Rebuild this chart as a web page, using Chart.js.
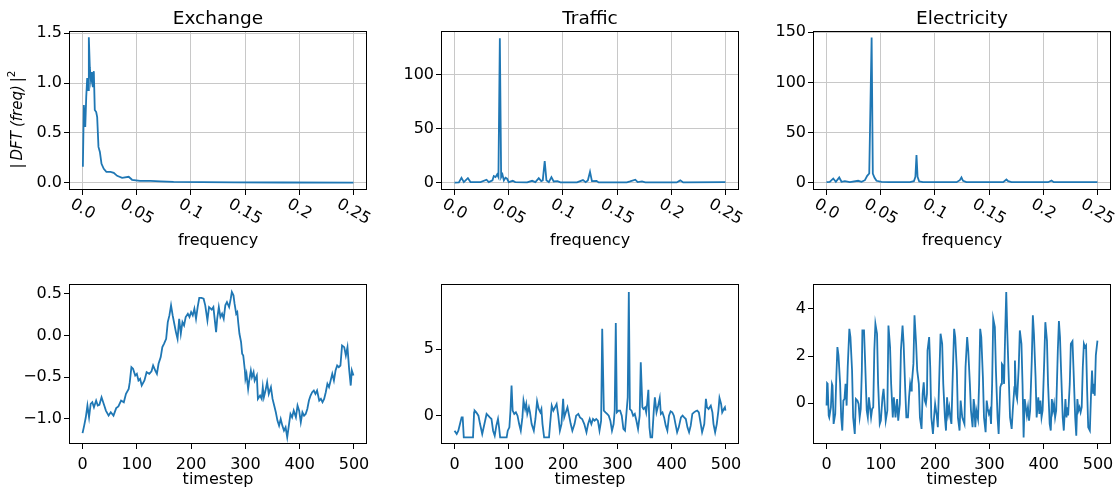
<!DOCTYPE html>
<html>
<head>
<meta charset="utf-8">
<title>Spectra and series</title>
<script src="https://cdn.jsdelivr.net/npm/chart.js@4.4.1/dist/chart.umd.min.js"></script>
<style>
  html, body { margin: 0; padding: 0; background: #fff; overflow: hidden; }
  body { width: 1115px; height: 489px; position: relative; }
  canvas { position: absolute; }
</style>
</head>
<body>
<canvas id="exFft"></canvas>
<canvas id="trFft"></canvas>
<canvas id="elFft"></canvas>
<canvas id="exSeries"></canvas>
<canvas id="trSeries"></canvas>
<canvas id="elSeries"></canvas>
<script>
// ---- spectra (frequency, |DFT|^2) ----
const exFreq = [0.0003, 0.0012, 0.0025, 0.0034, 0.0043, 0.0052, 0.0058, 0.0067, 0.0077, 0.0086,
  0.0095, 0.0104, 0.0113, 0.0126, 0.0135, 0.0147, 0.016, 0.0175, 0.0196, 0.022,
  0.0258, 0.0288, 0.0319, 0.0365, 0.0426, 0.0457, 0.053, 0.0626, 0.072, 0.084,
  0.11, 0.14, 0.185, 0.25];
const exPower = [0.16, 0.78, 0.56, 0.86, 1.05, 0.93, 1.46, 1.16, 1.03, 1.11,
  0.96, 1.12, 0.73, 0.71, 0.66, 0.36, 0.31, 0.19, 0.14, 0.11,
  0.11, 0.10, 0.07, 0.05, 0.06, 0.03, 0.02, 0.02, 0.015, 0.01,
  0.007, 0.004, 0.003, 0.002];

const trFreq = [0, 0.004, 0.0064, 0.0086, 0.0123, 0.0147, 0.024, 0.0295, 0.0316, 0.035,
  0.0362, 0.0378, 0.0393, 0.0405, 0.0418, 0.043, 0.0442, 0.0455, 0.047, 0.0485,
  0.05, 0.0537, 0.056, 0.067, 0.0716, 0.0746, 0.0777, 0.08, 0.0814, 0.0832,
  0.0848, 0.087, 0.0894, 0.0915, 0.095, 0.0977, 0.113, 0.1185, 0.121, 0.123,
  0.125, 0.1268, 0.131, 0.133, 0.159, 0.162, 0.1668, 0.169, 0.173, 0.176,
  0.205, 0.2083, 0.211, 0.25];
const trPower = [0.2, 0.3, 4.6, 0.6, 4.3, 0.6, 0.6, 2.8, 0.6, 2.2,
  6.2, 5.2, 7.7, 5.2, 133.5, 5.2, 7.7, 2.2, 4.6, 3.7,
  0.6, 1.8, 0.6, 0.3, 1.8, 0.6, 4.3, 1.5, 2.2, 20.0,
  2.2, 0.6, 5.2, 1.2, 1.5, 0.3, 0.3, 2.5, 0.6, 2.2,
  10.2, 1.5, 1.8, 0.3, 0.3, 1.2, 2.8, 0.6, 1.2, 0.3,
  0.3, 2.2, 0.3, 0.6];

const elFreq = [0, 0.003, 0.0062, 0.0086, 0.0117, 0.0138, 0.0169, 0.0215, 0.0292, 0.0323,
  0.0354, 0.0375, 0.0394, 0.0416, 0.0427, 0.0443, 0.0461, 0.0507, 0.058, 0.077,
  0.0806, 0.082, 0.083, 0.084, 0.0855, 0.089, 0.12, 0.123, 0.1245, 0.126,
  0.129, 0.163, 0.166, 0.1676, 0.1707, 0.2045, 0.2076, 0.2097, 0.25];
const elPower = [0.3, 0.5, 4.0, 0.7, 5.0, 0.7, 1.3, 0.3, 1.7, 0.7,
  2.3, 6.7, 9.0, 144.7, 9.0, 4.7, 1.7, 0.7, 0.3, 0.3,
  1.3, 5.7, 27.3, 5.7, 1.0, 0.3, 0.3, 2.3, 5.0, 1.7,
  0.3, 0.3, 3.0, 1.3, 0.3, 0.3, 2.0, 0.3, 0.3];

// ---- raw series (timestep, value) ----
const exStep = [0, 3, 6, 9, 12, 15, 18, 21, 25, 28,
  31, 35, 40, 43, 48, 52, 57, 62, 66, 71,
  76, 80, 85, 87, 90, 93, 97, 100, 103, 106,
  109, 114, 118, 123, 127, 130, 134, 137, 140, 144,
  147, 150, 154, 157, 160, 163, 166, 169, 172, 175,
  178, 181, 184, 187, 190, 194, 197, 200, 203, 206,
  209, 212, 215, 219, 223, 226, 230, 233, 238, 241,
  246, 248, 251, 254, 257, 260, 263, 266, 270, 273,
  275, 278, 280, 283, 285, 287, 289, 292, 294, 296,
  299, 300, 302, 305, 307, 310, 312, 315, 317, 321,
  323, 327, 330, 332, 334, 337, 340, 343, 347, 350,
  353, 356, 359, 362, 365, 368, 371, 374, 377, 380,
  383, 386, 389, 393, 396, 399, 402, 405, 408, 411,
  414, 417, 420, 423, 426, 429, 432, 436, 439, 442,
  445, 448, 451, 454, 457, 460, 463, 466, 469, 472,
  475, 478, 482, 485, 488, 491, 494, 496, 499];
const exValue = [-1.17, -1.08, -0.98, -0.84, -0.98, -0.82, -0.80, -0.86, -0.78, -0.84,
  -0.83, -0.74, -0.84, -0.90, -0.96, -0.92, -0.96, -0.87, -0.85, -0.78,
  -0.80, -0.70, -0.64, -0.56, -0.38, -0.40, -0.48, -0.46, -0.54, -0.52,
  -0.60, -0.54, -0.44, -0.46, -0.43, -0.36, -0.42, -0.46, -0.34, -0.26,
  -0.14, -0.10, -0.04, 0.16, 0.24, 0.36, 0.24, 0.14, 0.04, -0.04,
  0.20, 0.02, 0.16, 0.12, 0.22, 0.26, 0.22, 0.28, 0.24, 0.32,
  0.20, 0.34, 0.45, 0.45, 0.44, 0.36, 0.18, 0.34, 0.31, 0.34,
  0.04, 0.20, 0.34, 0.22, 0.26, 0.20, 0.36, 0.40, 0.34, 0.44,
  0.52, 0.48, 0.38, 0.26, 0.28, 0.14, 0.02, -0.08, -0.22, -0.24,
  -0.42, -0.52, -0.46, -0.64, -0.54, -0.42, -0.50, -0.44, -0.54, -0.48,
  -0.76, -0.72, -0.76, -0.62, -0.74, -0.66, -0.56, -0.70, -0.62, -0.76,
  -0.84, -0.92, -1.02, -1.08, -1.00, -1.08, -1.14, -1.10, -1.22, -1.08,
  -0.94, -0.98, -0.90, -0.98, -0.84, -0.90, -1.04, -0.92, -0.96, -0.94,
  -0.88, -0.78, -0.72, -0.68, -0.66, -0.70, -0.66, -0.78, -0.76, -0.80,
  -0.76, -0.68, -0.58, -0.62, -0.54, -0.46, -0.54, -0.42, -0.36, -0.38,
  -0.36, -0.12, -0.14, -0.24, -0.14, -0.40, -0.60, -0.42, -0.48];

const trStep = [0, 4, 7, 10, 13, 15, 17, 34, 36, 37,
  40, 44, 47, 51, 55, 59, 62, 65, 68, 71,
  74, 77, 80, 82, 84, 96, 98, 101, 103, 105,
  107, 110, 113, 116, 119, 122, 125, 127, 130, 132,
  134, 137, 139, 142, 146, 149, 152, 155, 158, 160,
  162, 165, 174, 176, 179, 182, 185, 188, 191, 194,
  197, 200, 202, 205, 208, 211, 214, 217, 221, 224,
  228, 231, 235, 239, 243, 246, 249, 252, 255, 258,
  261, 264, 267, 270, 272, 275, 278, 281, 284, 287,
  290, 293, 295, 297, 299, 302, 305, 308, 311, 314,
  316, 319, 321, 323, 326, 329, 332, 335, 338, 341,
  343, 346, 348, 351, 353, 355, 357, 359, 361, 364,
  367, 369, 372, 375, 378, 380, 383, 386, 389, 392,
  395, 398, 401, 404, 407, 410, 413, 417, 420, 423,
  426, 429, 432, 435, 438, 441, 444, 447, 450, 453,
  456, 460, 463, 465, 468, 470, 472, 475, 477, 480,
  483, 486, 488, 491, 493, 496, 498, 499];
const trValue = [-1.13, -1.38, -1.13, -0.63, -0.13, -0.13, -1.63, -1.63, 0.25, 0.38,
  0.25, 0.0, -0.63, -1.38, -0.63, 0.13, 0.0, -0.13, -0.25, -1.13,
  -1.5, -0.75, -0.25, -0.88, -1.63, -1.63, -1.13, -0.88, 0.38, 2.26,
  0.38, 0.13, 0.25, 0.0, -0.63, -1.13, -0.13, 1.13, 0.5, 0.88,
  0.13, 0.63, 0.25, -0.63, -1.13, -0.25, 1.08, 0.5, 0.25, 0.5,
  -0.63, -1.63, -1.63, -0.63, 0.75, 0.38, 0.63, 0.88, 0.0, -1.13,
  -0.63, 1.26, -0.13, 0.25, 0.63, 0.0, -0.63, -1.13, -0.63, 0.0,
  0.13, -0.13, -0.25, -0.63, -1.25, -0.63, -0.25, -0.63, -0.25, -0.38,
  -0.25, -0.38, -1.13, -0.38, 6.53, 0.38, 0.25, 0.13, 0.0, -0.38,
  -1.13, -0.63, 0.38, 6.96, 0.25, 0.38, 0.38, 0.0, -1.0, -1.13,
  -0.13, 1.38, 9.3, 0.5, 0.38, 0.0, 0.13, -0.38, -1.0, 0.0,
  4.02, 0.63, 0.5, 0.63, 0.25, 1.0, 1.94, -0.88, -1.63, -1.63,
  0.38, 1.38, 0.25, 0.75, 1.33, 0.13, 0.25, -0.13, -0.75, -1.13,
  0.0, 0.33, 0.25, 0.0, -0.63, -1.25, -0.88, -0.13, 0.0, -0.13,
  -0.25, -0.88, -1.25, -0.75, 0.13, 0.25, 0.33, 0.38, 0.25, -0.5,
  -1.25, -0.63, 1.26, 0.63, 0.5, 0.63, 0.75, 0.25, -0.63, -1.25,
  -0.63, 0.38, 1.33, 0.88, 0.25, 0.5, 0.63, 0.38];

const elStep = [0, 1, 2, 4, 5, 8, 10, 11, 13, 16,
  18, 20, 22, 25, 27, 29, 31, 33, 35, 37,
  39, 42, 44, 47, 49, 52, 54, 57, 59, 61,
  63, 65, 66, 69, 71, 74, 76, 78, 80, 82,
  84, 86, 88, 90, 93, 95, 98, 100, 103, 105,
  107, 109, 112, 114, 117, 119, 122, 124, 127, 130,
  132, 135, 137, 140, 142, 145, 147, 150, 152, 154,
  156, 157, 160, 162, 165, 167, 170, 172, 175, 177,
  179, 181, 183, 185, 186, 189, 191, 193, 196, 198,
  200, 203, 205, 208, 210, 213, 215, 218, 220, 222,
  224, 226, 228, 230, 232, 235, 237, 240, 242, 245,
  247, 250, 252, 254, 256, 259, 261, 264, 266, 269,
  271, 272, 274, 276, 279, 281, 283, 285, 288, 290,
  293, 295, 297, 299, 301, 303, 305, 307, 310, 312,
  315, 317, 320, 322, 323, 325, 327, 329, 331, 333,
  336, 338, 341, 343, 346, 347, 349, 351, 354, 356,
  359, 361, 363, 365, 367, 369, 371, 373, 375, 378,
  380, 382, 385, 387, 390, 392, 394, 396, 398, 401,
  403, 406, 408, 411, 413, 415, 417, 419, 421, 423,
  426, 428, 430, 432, 435, 437, 440, 442, 443, 445,
  448, 450, 453, 455, 458, 460, 462, 464, 466, 468,
  470, 472, 474, 476, 478, 480, 482, 485, 487, 489,
  491, 493, 494, 496, 499];
const elValue = [-0.10, 0.85, 0.82, -0.52, -0.60, -0.17, 0.82, 0.75, -0.88, -0.45,
  1.10, 2.38, 2.03, 0.82, -0.60, -1.16, 0.11, 0.18, 0.82, -0.10,
  1.53, 3.16, 2.81, 1.39, -0.60, -1.30, 0.18, 0.11, -0.03, -0.60,
  -0.24, 1.39, 3.09, 3.09, 1.81, -0.31, -0.60, 0.25, -0.17, -0.60,
  -0.24, -0.17, 2.24, 3.37, 2.95, 0.82, -0.88, -0.74, 0.25, 0.61,
  -0.03, -0.74, -0.31, 3.30, 2.38, 0.82, -0.60, 0.25, -0.60, 0.18,
  -0.74, -0.03, 2.24, 3.30, 2.52, 0.54, -0.60, -0.60, 0.25, 0.82,
  0.54, 0.82, 1.67, 3.73, 2.52, 1.39, 0.82, -0.60, -1.09, 0.40,
  0.89, 0.11, -0.03, 0.40, 2.24, 2.81, 1.53, -0.60, -1.30, -0.60,
  -0.03, -0.52, -1.02, 1.39, 2.95, 2.52, 0.82, -0.60, -1.16, 0.25,
  -0.45, -0.17, -0.60, -0.88, 0.82, 3.16, 2.81, 1.39, -0.60, -1.16,
  0.11, -0.60, -0.74, -0.88, 1.53, 2.81, 2.24, 0.82, -0.31, -1.02,
  0.18, -0.03, -1.02, -0.31, -0.67, 0.82, 3.16, 2.81, 1.10, -0.60,
  -1.23, 0.11, -0.24, -0.45, -0.31, -0.88, 0.82, 3.59, 3.23, 1.39,
  -0.60, -1.30, 0.68, 0.82, 1.67, 1.60, 0.82, 2.95, 4.72, 2.95,
  0.82, -0.60, -1.09, -0.31, 0.68, 1.81, 0.40, 0.18, 1.53, 3.09,
  2.52, 0.82, -1.45, 0.18, -0.17, -0.52, -0.17, -0.74, -0.31, 1.81,
  3.73, 2.95, 1.10, -0.60, 0.25, -0.45, 0.11, -0.60, -0.31, 1.81,
  3.44, 2.66, 0.82, -0.88, -1.16, 0.18, -0.31, -0.03, -0.60, -0.31,
  2.24, 3.49, 2.81, 1.39, -0.60, -1.16, 0.18, -0.60, -0.17, -0.52,
  0.82, 2.52, 2.63, 1.39, -0.60, -1.38, 0.18, -0.31, -0.17, -0.38,
  -0.17, 1.53, 2.52, 2.38, 2.45, 0.54, -1.02, -1.16, 0.25, 1.39,
  0.40, 0.82, 0.32, 2.03, 2.66];

// ---- ticks ----
const freqTicks = [0, 0.05, 0.1, 0.15, 0.2, 0.25];
const freqLabels = ['0.0', '0.05', '0.1', '0.15', '0.2', '0.25'];
const stepTicks = [0, 100, 200, 300, 400, 500];
const stepLabels = ['0', '100', '200', '300', '400', '500'];
const exFftTicks = [0, 0.5, 1.0, 1.5];
const exFftLabels = ['0.0', '0.5', '1.0', '1.5'];
const trFftTicks = [0, 50, 100];
const trFftLabels = ['0', '50', '100'];
const elFftTicks = [0, 50, 100, 150];
const elFftLabels = ['0', '50', '100', '150'];
const exSeriesTicks = [-1.0, -0.5, 0.0, 0.5];
const exSeriesLabels = ['\u22121.0', '\u22120.5', '0.0', '0.5'];
const trSeriesTicks = [0, 5];
const trSeriesLabels = ['0', '5'];
const elSeriesTicks = [0, 2, 4];
const elSeriesLabels = ['0', '2', '4'];

const FONT = '"DejaVu Sans", sans-serif';
const BLUE = '#1f77b4';
const PAD_L = 68, PAD_R = 22;

function toPoints(xs, ys) {
  return xs.map((x, i) => ({ x: x, y: ys[i] }));
}

// frame, titles, rotated frequency labels and the mathtext-like y label
const panelDeco = {
  id: 'panelDeco',
  afterDatasetsDraw(chart, args, opts) {
    const { ctx, chartArea: a } = chart;
    ctx.save();
    ctx.strokeStyle = '#000';
    ctx.lineWidth = 1;
    ctx.strokeRect(a.left + 0.5, a.top + 0.5, a.right - a.left - 1, a.bottom - a.top - 1);
    ctx.restore();
  },
  afterDraw(chart, args, opts) {
    const { ctx, chartArea: a } = chart;
    const cx = (a.left + a.right) / 2;
    ctx.save();
    ctx.fillStyle = '#000';
    ctx.textAlign = 'center';
    ctx.textBaseline = 'alphabetic';
    if (opts.title) {
      ctx.font = '18.5px ' + FONT;
      ctx.fillText(opts.title, cx, a.top - 7.5);
    }
    ctx.font = '16px ' + FONT;
    ctx.fillText(opts.xTitle, cx, a.bottom + opts.xTitleGap);

    if (opts.rotatedLabels) {
      const sx = chart.scales.x;
      const ang = Math.PI / 6;
      ctx.textBaseline = 'middle';
      sx.ticks.forEach((t, i) => {
        const label = opts.rotatedLabels[i];
        const w = ctx.measureText(label).width;
        const boxH = w * Math.sin(ang) + 16 * 1.17 * Math.cos(ang);
        const px = sx.getPixelForValue(t.value);
        ctx.save();
        ctx.translate(px, a.bottom + 5 + boxH / 2);
        ctx.rotate(ang);
        ctx.fillText(label, 0, 0);
        ctx.restore();
      });
    }

    if (opts.yLabel) {
      const parts = [
        { t: '|', f: '15px ' + FONT, dy: 0 },
        { gap: 3 },
        { t: 'DFT', f: 'italic 15px ' + FONT, dy: 0 },
        { gap: 4 },
        { t: '(freq)', f: 'italic 15px ' + FONT, dy: 0 },
        { gap: 3 },
        { t: '|', f: '15px ' + FONT, dy: 0 },
        { t: '2', f: '10.5px ' + FONT, dy: -7 }
      ];
      let total = 0;
      parts.forEach(p => {
        if (p.gap) { total += p.gap; return; }
        ctx.font = p.f;
        p.w = ctx.measureText(p.t).width;
        total += p.w;
      });
      ctx.translate(opts.yLabel.x, opts.yLabel.y);
      ctx.rotate(-Math.PI / 2);
      ctx.textAlign = 'left';
      ctx.textBaseline = 'alphabetic';
      let x = -total / 2;
      parts.forEach(p => {
        if (p.gap) { x += p.gap; return; }
        ctx.font = p.f;
        ctx.fillText(p.t, x, p.dy);
        x += p.w;
      });
    }
    ctx.restore();
  }
};

function drawPanel(id, p) {
  const canvas = document.getElementById(id);
  canvas.width = PAD_L + p.w + PAD_R;
  canvas.height = p.padT + p.h + p.padB;
  canvas.style.left = (p.left - PAD_L) + 'px';
  canvas.style.top = (p.top - p.padT) + 'px';
  const tickFont = { family: FONT, size: 16 };
  const gridColor = p.grid ? '#c8c8c8' : 'rgba(0,0,0,0)';
  const grid = {
    drawOnChartArea: p.grid,
    color: gridColor,
    lineWidth: 1,
    drawTicks: true,
    tickLength: 5,
    tickColor: '#000',
    tickWidth: 1
  };

  new Chart(canvas, {
    type: 'line',
    data: {
      datasets: [{
        data: toPoints(p.xs, p.ys),
        borderColor: BLUE,
        borderWidth: 1.8,
        pointRadius: 0,
        tension: 0,
        fill: false
      }]
    },
    options: {
      responsive: false,
      animation: false,
      devicePixelRatio: 1,
      layout: { padding: { left: 0, right: PAD_R, top: p.padT, bottom: 0 } },
      plugins: {
        legend: { display: false },
        tooltip: { enabled: false },
        panelDeco: {
          title: p.title,
          xTitle: p.xTitle,
          xTitleGap: p.xTitleGap,
          rotatedLabels: p.rotated ? p.xLabels : null,
          yLabel: p.yLabel || null
        }
      },
      scales: {
        x: {
          type: 'linear',
          min: p.xMin,
          max: p.xMax,
          afterBuildTicks: s => { s.ticks = p.xTicks.map(v => ({ value: v })); },
          afterFit: s => { s.height = p.padB; },
          ticks: {
            display: !p.rotated,
            font: tickFont,
            color: '#000',
            padding: 6,
            maxRotation: 0,
            autoSkip: false,
            callback: (v, i) => p.xLabels[i]
          },
          grid: grid,
          border: { display: false }
        },
        y: {
          type: 'linear',
          min: p.yMin,
          max: p.yMax,
          afterBuildTicks: s => { s.ticks = p.yTicks.map(v => ({ value: v })); },
          afterFit: s => { s.width = PAD_L; },
          ticks: {
            font: tickFont,
            color: '#000',
            padding: 2,
            autoSkip: false,
            callback: (v, i) => p.yLabels[i]
          },
          grid: grid,
          border: { display: false }
        }
      }
    },
    plugins: [panelDeco]
  });
}

const topRow = { top: 31, h: 159, padT: 31, padB: 62, w: 298, grid: true, rotated: true,
  xMin: -0.0125, xMax: 0.2625, xTicks: freqTicks, xLabels: freqLabels,
  xTitle: 'frequency', xTitleGap: 55 };
const bottomRow = { top: 284, h: 160, padT: 30, padB: 45, w: 298, grid: false, rotated: false,
  xMin: -24.95, xMax: 523.95, xTicks: stepTicks, xLabels: stepLabels,
  xTitle: 'timestep', xTitleGap: 39.5 };

drawPanel('exFft', Object.assign({}, topRow, {
  left: 69, title: 'Exchange', xs: exFreq, ys: exPower,
  yMin: -0.0725, yMax: 1.523, yTicks: exFftTicks, yLabels: exFftLabels,
  yLabel: { x: 22 - 1, y: 119.5 }
}));
drawPanel('trFft', Object.assign({}, topRow, {
  left: 441, title: 'Traffic', xs: trFreq, ys: trPower,
  yMin: -6.7, yMax: 140.2, yTicks: trFftTicks, yLabels: trFftLabels
}));
drawPanel('elFft', Object.assign({}, topRow, {
  left: 813, title: 'Electricity', xs: elFreq, ys: elPower,
  yMin: -7.5, yMax: 151.3, yTicks: elFftTicks, yLabels: elFftLabels
}));
drawPanel('exSeries', Object.assign({}, bottomRow, {
  left: 69, xs: exStep, ys: exValue,
  yMin: -1.30, yMax: 0.616, yTicks: exSeriesTicks, yLabels: exSeriesLabels
}));
drawPanel('trSeries', Object.assign({}, bottomRow, {
  left: 441, xs: trStep, ys: trValue,
  yMin: -2.13, yMax: 9.9, yTicks: trSeriesTicks, yLabels: trSeriesLabels
}));
drawPanel('elSeries', Object.assign({}, bottomRow, {
  left: 813, xs: elStep, ys: elValue,
  yMin: -1.73, yMax: 5.06, yTicks: elSeriesTicks, yLabels: elSeriesLabels
}));
</script>
</body>
</html>
